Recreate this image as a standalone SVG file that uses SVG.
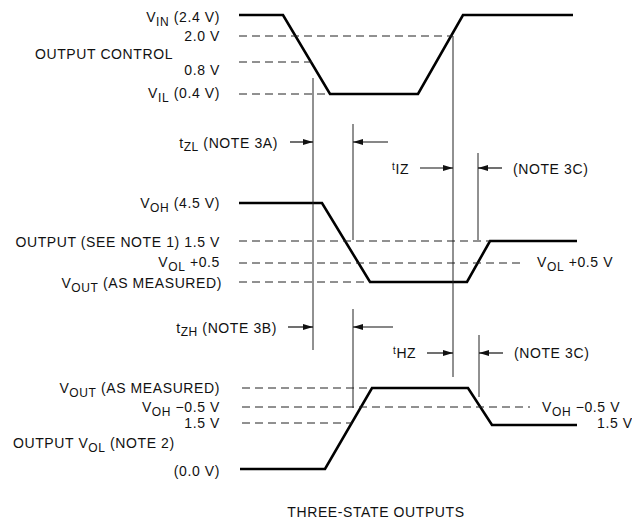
<svg xmlns="http://www.w3.org/2000/svg" width="632" height="527" viewBox="0 0 632 527">
<defs>
<style>
.t{font-family:"Liberation Sans",Arial,Helvetica,sans-serif;font-size:14px;letter-spacing:0.6px;fill:#111}
.s{font-size:12px}
.ts{font-size:10px}
.w{stroke:#000;stroke-width:2.6;fill:none;stroke-linejoin:miter}
.d{stroke:#222;stroke-width:1;stroke-dasharray:8 5;fill:none}
.v{stroke:#222;stroke-width:1;fill:none}
.a{stroke:#111;stroke-width:1.2;fill:none;marker-end:url(#ah)}
</style>
<marker id="ah" viewBox="0 0 10 6" refX="10" refY="3" markerWidth="11" markerHeight="6" orient="auto" markerUnits="userSpaceOnUse"><path d="M0,0 L10,3 L0,6 z" fill="#111"/></marker>
</defs>
<rect width="632" height="527" fill="#fff"/>

<g id="waveforms">
<path id="wave-control" class="w" d="M239,15 H283 L330,94 H418 L463,15 H573"/>
<path id="wave-output-low" class="w" d="M239,203 H322 L370,282 H467 L490,241 H577"/>
<path id="wave-output-high" class="w" d="M240,469 H325 L372,388 H468 L492,425 H577"/>
</g>

<g id="connectors">
<path class="d" d="M239,36 H453"/>
<path class="d" d="M239,62 H312"/>
<path class="d" d="M239,94 H330"/>
<path class="d" d="M239,241 H490"/>
<path class="d" d="M239,263 H523"/>
<path class="d" d="M239,282 H370"/>
<path class="d" d="M242,388 H372"/>
<path class="d" d="M242,407 H530"/>
<path class="d" d="M242,423 H352"/>
<path class="v" d="M313,78 V350"/>
<path class="v" d="M353,124 V240"/>
<path class="v" d="M353,309 V408"/>
<path class="v" d="M453,36 V377"/>
<path class="v" d="M478,153 V240"/>
<path class="v" d="M479,335 V397"/>
<path class="a" d="M290,142 H313"/>
<path class="a" d="M388,142 H353"/>
<path class="a" d="M420,168 H453"/>
<path class="a" d="M502,168 H478"/>
<path class="a" d="M288,327 H313"/>
<path class="a" d="M393,327 H353"/>
<path class="a" d="M427,353 H453"/>
<path class="a" d="M503,353 H479"/>
</g>

<g id="labels-control">
<text class="t" x="220" y="22" text-anchor="end">V<tspan class="s" dy="4">IN</tspan><tspan dy="-4"> (2.4 V)</tspan></text>
<text class="t" x="220" y="41" text-anchor="end">2.0 V</text>
<text class="t" x="35" y="59">OUTPUT CONTROL</text>
<text class="t" x="220" y="75" text-anchor="end">0.8 V</text>
<text class="t" x="220" y="98" text-anchor="end">V<tspan class="s" dy="4">IL</tspan><tspan dy="-4"> (0.4 V)</tspan></text>
</g>

<g id="labels-low">
<text class="t" x="278" y="148" text-anchor="end">t<tspan class="s" dy="3">ZL</tspan><tspan dy="-3"> (NOTE 3A)</tspan></text>
<text class="t" x="220" y="208" text-anchor="end">V<tspan class="s" dy="4">OH</tspan><tspan dy="-4"> (4.5 V)</tspan></text>
<text class="t" x="220" y="247" text-anchor="end">OUTPUT (SEE NOTE 1) 1.5 V</text>
<text class="t" x="220" y="267" text-anchor="end">V<tspan class="s" dy="4">OL</tspan><tspan dy="-4"> +0.5</tspan></text>
<text class="t" x="222" y="288" text-anchor="end">V<tspan class="s" dy="4">OUT</tspan><tspan dy="-4"> (AS MEASURED)</tspan></text>
<text class="t" x="392" y="174"><tspan class="ts" dy="-4">t</tspan><tspan dy="4">IZ</tspan></text>
<text class="t" x="513" y="174">(NOTE 3C)</text>
<text class="t" x="537" y="267">V<tspan class="s" dy="4">OL</tspan><tspan dy="-4"> +0.5 V</tspan></text>
</g>

<g id="labels-high">
<text class="t" x="277" y="333" text-anchor="end">t<tspan class="s" dy="3">ZH</tspan><tspan dy="-3"> (NOTE 3B)</tspan></text>
<text class="t" x="393" y="358"><tspan class="ts" dy="-4">t</tspan><tspan dy="4">HZ</tspan></text>
<text class="t" x="514" y="358">(NOTE 3C)</text>
<text class="t" x="220" y="393" text-anchor="end">V<tspan class="s" dy="4">OUT</tspan><tspan dy="-4"> (AS MEASURED)</tspan></text>
<text class="t" x="220" y="412" text-anchor="end">V<tspan class="s" dy="4">OH</tspan><tspan dy="-4"> −0.5 V</tspan></text>
<text class="t" x="220" y="428" text-anchor="end">1.5 V</text>
<text class="t" x="13" y="448">OUTPUT V<tspan class="s" dy="4">OL</tspan><tspan dy="-4"> (NOTE 2)</tspan></text>
<text class="t" x="220" y="476" text-anchor="end">(0.0 V)</text>
<text class="t" x="542" y="412">V<tspan class="s" dy="4">OH</tspan><tspan dy="-4"> −0.5 V</tspan></text>
<text class="t" x="597" y="428">1.5 V</text>
</g>

<g id="caption">
<text class="t" x="376" y="517" text-anchor="middle">THREE-STATE OUTPUTS</text>
</g>
</svg>
